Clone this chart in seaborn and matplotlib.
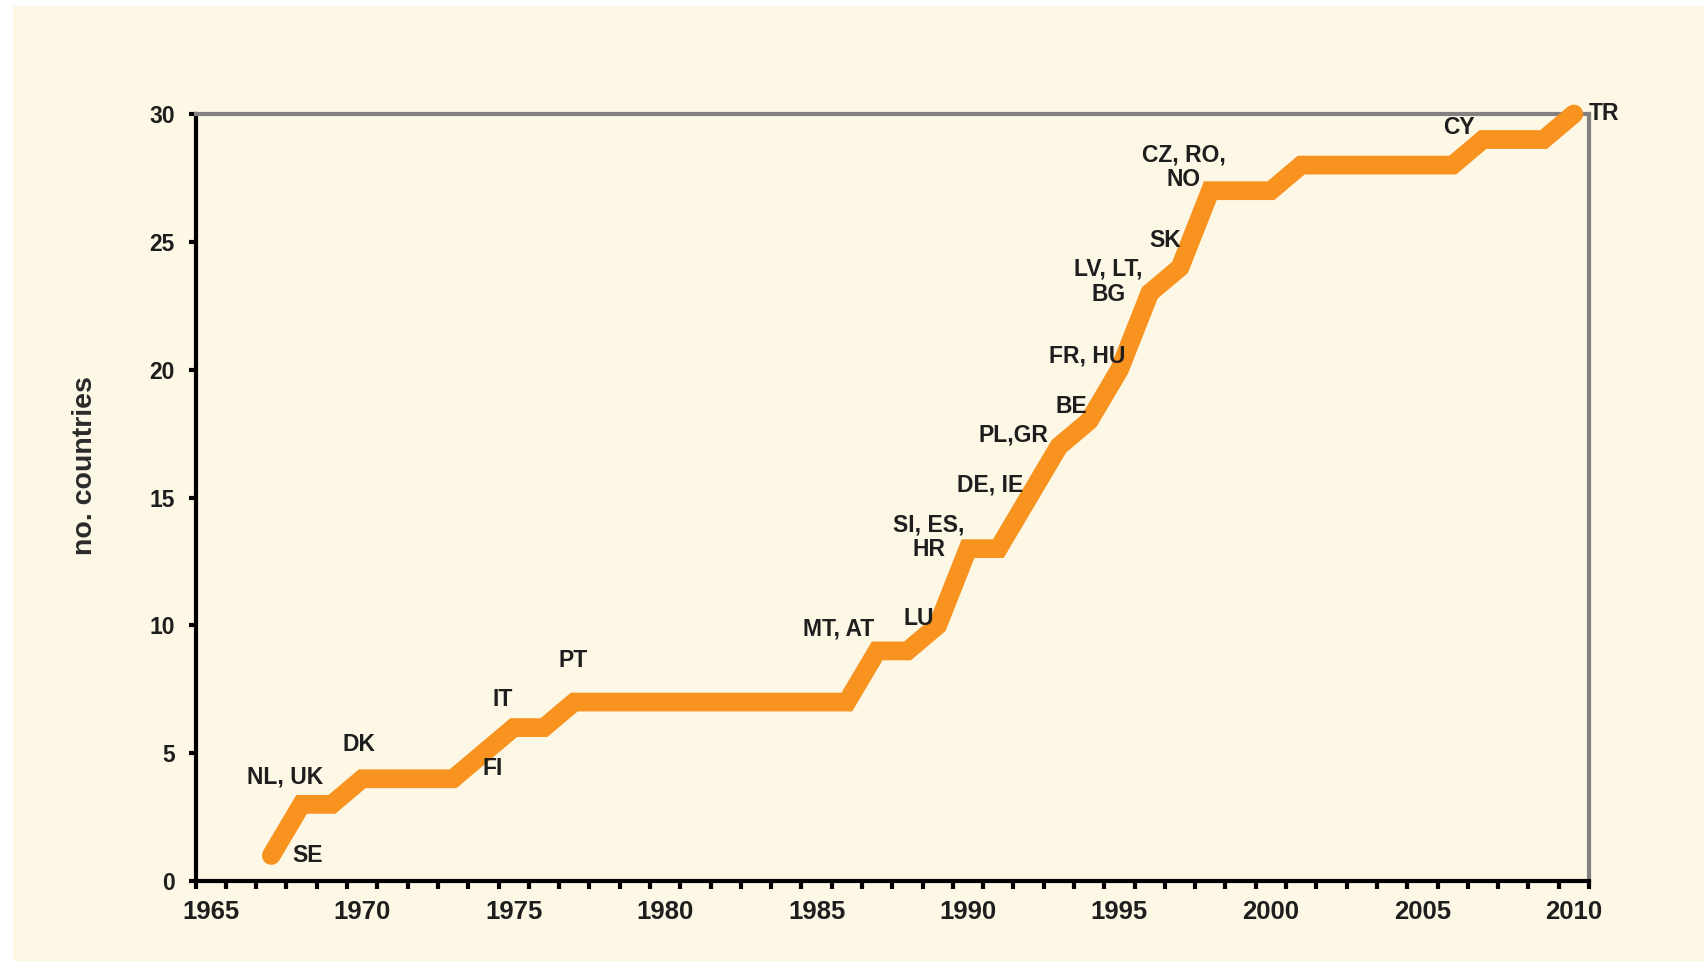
"""
plot.py
Cumulative number of countries over time (step-like line with country labels).
"""

import matplotlib
matplotlib.use("Agg")
import matplotlib.pyplot as plt
from matplotlib.patches import Rectangle
import pandas as pd
import seaborn as sns

# Data
years = list(range(1967, 2011))
counts = [1, 3, 3, 4, 4, 4, 4, 5, 6, 6, 7,
          7, 7, 7, 7, 7, 7, 7, 7, 7,
          9, 9, 10, 13, 13, 15, 17, 18, 20, 23, 24, 27, 27, 27,
          28, 28, 28, 28, 28, 28, 29, 29, 29, 30]

label_years = [1967, 1968, 1970, 1974, 1975, 1977, 1987, 1989, 1990,
               1992, 1993, 1994, 1995, 1996, 1997, 1998, 2007, 2010]
label_texts = ["SE", "NL, UK", "DK", "FI", "IT", "PT", "MT, AT", "LU",
               "SI, ES,\nHR", "DE, IE", "PL,GR", "BE", "FR, HU",
               "LV, LT,\nBG", "SK", "CZ, RO,\nNO", "CY", "TR"]

x_tick_years = [1965, 1970, 1975, 1980, 1985, 1990, 1995, 2000, 2005, 2010]
y_ticks = [0, 5, 10, 15, 20, 25, 30]

# Layout only: label offsets from their point, in points
label_offsets = [(26, 0), (-12, 20), (-2, 25), (7, -11), (-8, 20), (-1, 30),
                 (-28, 16), (-14, 5), (-28, 8), (-28, 9), (-33, 8), (-13, 10),
                 (-23, 10), (-30, 8), (-11, 19), (-19, 17), (-17, 9), (22, 0)]

BG = "#FDF7E6"
ORANGE = "#F7931E"
TXT = "#1E1E1E"

sns.set_theme(style="white")
plt.rcParams.update({
    "font.family": ["Liberation Sans", "DejaVu Sans"],
    "axes.facecolor": BG,
})


def main():
    df = pd.DataFrame({"year": years, "count": counts})

    fig = plt.figure(figsize=(17.04, 9.61), dpi=100)
    fig.patch.set_facecolor("white")
    # cream panel with thin white margin on top/left
    fig.add_artist(Rectangle((13 / 1704, 0), 1, 1 - 6 / 961,
                             transform=fig.transFigure, facecolor=BG,
                             edgecolor="none", zorder=-10))

    ax = fig.add_axes([0.1148, 0.0832, 0.9325 - 0.1148, 0.8814 - 0.0832])
    ax.set_facecolor(BG)

    sns.lineplot(data=df, x="year", y="count", ax=ax, color=ORANGE,
                 linewidth=13.5, solid_capstyle="round", solid_joinstyle="miter",
                 clip_on=False, zorder=3)

    ax.set_xlim(1964.5, 2010.5)
    ax.set_ylim(0, 30)

    # category style x axis: ticks between years, labels centred on years
    ax.set_xticks([y - 0.5 for y in range(1965, 2012)])
    ax.set_xticklabels([])
    ax.set_xticks(x_tick_years, minor=True)
    ax.set_xticklabels([str(y) for y in x_tick_years], minor=True,
                       fontsize=18.5, fontweight="bold", color=TXT)
    ax.tick_params(axis="x", which="major", direction="out", length=6,
                   width=3, color="black", bottom=True)
    ax.tick_params(axis="x", which="minor", length=0, pad=14, bottom=True)

    ax.set_yticks(y_ticks)
    ax.set_yticklabels([str(v) for v in y_ticks], fontsize=16.5,
                       fontweight="bold", color=TXT)
    ax.tick_params(axis="y", direction="out", length=5, width=3,
                   color="black", pad=10, left=True)

    for side in ["left", "bottom"]:
        ax.spines[side].set_color("black")
        ax.spines[side].set_linewidth(3)
    for side in ["top", "right"]:
        ax.spines[side].set_color("#858080")
        ax.spines[side].set_linewidth(3)

    ax.set_xlabel("")
    ax.set_ylabel("no. countries", fontsize=20.5, fontweight="bold",
                  color="#2A2A2A")
    ax.yaxis.set_label_coords(-0.07, 0.542)
    ax.grid(False)

    lookup = dict(zip(years, counts))
    for yr, txt, off in zip(label_years, label_texts, label_offsets):
        ax.annotate(txt, xy=(yr, lookup[yr]), xytext=off,
                    textcoords="offset points", ha="center", va="center",
                    multialignment="center", fontsize=16.5,
                    fontweight="bold", color=TXT, zorder=5,
                    annotation_clip=False, linespacing=1.1)

    fig.savefig("out.png", dpi=100, facecolor=fig.get_facecolor())
    plt.close(fig)


if __name__ == "__main__":
    main()
